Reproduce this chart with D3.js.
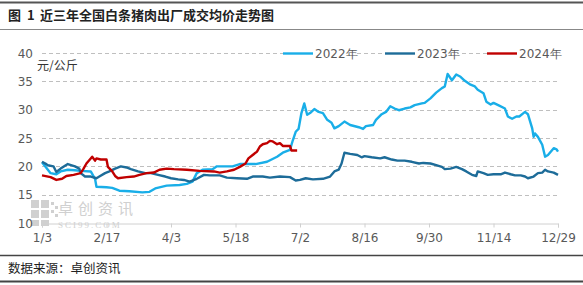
<!DOCTYPE html>
<html>
<head>
<meta charset="utf-8">
<script src="https://cdn.jsdelivr.net/npm/d3@7"></script>
<style>
  body { margin: 0; background: #fff; }
  svg { display: block; }
</style>
</head>
<body>
<div id="chart"></div>
<script>
// x = days since 1/3, y = 元/公斤
const days2022 = [0, 6, 10, 13, 18, 23, 27, 34, 37, 38, 45, 49, 54, 61, 70, 75, 79, 87, 96, 101, 105, 108, 112, 119, 122, 133, 138, 149, 157, 164, 168, 173, 175, 177, 179, 181, 183, 185, 187, 190, 193, 196, 199, 202, 204, 207, 211, 215, 221, 224, 226, 231, 233, 237, 240, 243, 246, 249, 253, 257, 260, 265, 267, 271, 275, 279, 281, 283, 286, 289, 292, 295, 299, 302, 304, 308, 310, 313, 315, 319, 323, 325, 328, 331, 333, 337, 339, 342, 343, 344, 346, 349, 351, 353, 357, 359, 360];
const vals2022 = [20.7, 18.8, 18.6, 19.1, 19.4, 19.3, 19.2, 19.1, 17.8, 16.4, 16.3, 16.2, 15.7, 15.6, 15.4, 15.5, 16.1, 16.6, 16.7, 16.9, 17.3, 18.8, 19.4, 19.5, 20.0, 20.0, 20.4, 20.4, 20.8, 21.7, 22.4, 22.9, 24.6, 26.1, 26.6, 29.4, 31.1, 29.1, 29.4, 30.1, 29.6, 29.4, 28.2, 27.7, 26.7, 27.1, 27.9, 27.3, 26.9, 26.6, 27.1, 27.3, 28.2, 29.2, 29.6, 30.6, 30.2, 29.9, 30.2, 30.4, 30.8, 31.1, 31.2, 32.0, 33.0, 33.8, 34.1, 36.3, 35.2, 36.2, 35.8, 35.1, 34.4, 34.1, 33.5, 32.9, 31.4, 30.9, 31.2, 30.7, 30.2, 28.8, 28.4, 28.8, 28.8, 29.6, 29.2, 26.7, 25.2, 25.8, 25.2, 23.8, 21.7, 22.0, 23.2, 23.0, 22.6];

const days2023 = [0, 3, 4, 8, 10, 13, 18, 23, 26, 27, 30, 34, 38, 40, 44, 47, 51, 55, 59, 62, 67, 72, 76, 81, 86, 90, 95, 99, 103, 108, 113, 117, 124, 129, 136, 143, 147, 154, 159, 166, 173, 177, 180, 184, 189, 196, 201, 204, 207, 209, 211, 215, 220, 223, 225, 230, 236, 239, 244, 248, 253, 258, 263, 266, 271, 275, 279, 281, 285, 289, 293, 296, 300, 303, 304, 308, 311, 315, 320, 323, 327, 330, 334, 337, 339, 343, 346, 349, 351, 353, 357, 360];
const vals2023 = [20.8, 20.4, 20.2, 20.0, 19.0, 19.6, 20.4, 20.0, 19.6, 18.8, 18.2, 18.2, 17.9, 18.2, 18.8, 19.1, 19.6, 20.0, 19.8, 19.5, 19.1, 18.8, 18.8, 18.5, 18.2, 17.9, 17.7, 17.6, 17.3, 17.8, 18.5, 18.4, 18.4, 18.0, 17.9, 17.8, 18.2, 18.2, 18.0, 18.2, 18.1, 17.5, 17.6, 17.9, 17.7, 17.8, 18.2, 19.1, 19.4, 20.5, 22.4, 22.2, 22.0, 21.6, 21.8, 21.6, 21.4, 21.6, 21.2, 21.0, 21.0, 20.8, 20.5, 20.6, 20.5, 20.2, 19.9, 19.5, 19.6, 19.9, 19.5, 19.1, 18.5, 18.3, 19.1, 18.8, 18.5, 18.6, 18.6, 18.9, 18.6, 18.4, 18.4, 18.2, 17.9, 18.2, 18.8, 18.9, 19.4, 19.1, 18.9, 18.5];

const days2024 = [0, 6, 10, 14, 17, 22, 27, 29, 31, 34, 35, 37, 38, 41, 45, 46, 49, 51, 53, 59, 64, 68, 73, 78, 82, 87, 92, 101, 110, 120, 124, 129, 134, 138, 142, 144, 147, 150, 152, 154, 157, 159, 161, 164, 166, 168, 173, 174, 178];
const vals2024 = [18.4, 18.1, 17.6, 17.8, 18.3, 18.5, 18.8, 19.6, 20.5, 21.4, 21.7, 21.0, 21.4, 21.2, 21.2, 19.9, 19.1, 18.3, 17.9, 18.1, 18.2, 18.5, 18.8, 18.9, 19.4, 19.6, 19.5, 19.4, 19.2, 19.1, 18.9, 19.1, 19.4, 19.9, 20.5, 21.4, 22.0, 22.6, 23.5, 23.9, 24.1, 24.5, 24.4, 23.9, 24.1, 23.6, 23.6, 22.8, 22.8];

const tickDays = [0, 45, 90, 135, 180, 225, 270, 315, 360];
const tickLabels = ["1/3", "2/17", "4/3", "5/18", "7/2", "8/16", "9/30", "11/14", "12/29"];
const yTicks = [10, 15, 20, 25, 30, 35, 40];

const seriesNames = ["2022年", "2023年", "2024年"];
const seriesColors = ["#19aee8", "#1d6c99", "#c00000"];

const W = 583, H = 285;
const svg = d3.select("#chart").append("svg").attr("width", W).attr("height", H);

const x = d3.scaleLinear().domain([0, 360]).range([42, 558]);
const y = d3.scaleLinear().domain([10, 40]).range([223, 53]);

const cjk = "'Noto Sans CJK SC', 'Noto Sans', sans-serif";
const num = "'DejaVu Sans', 'Liberation Sans', sans-serif";

// title and frame lines
svg.append("line").attr("x1", 0).attr("x2", W).attr("y1", 2.5).attr("y2", 2.5)
    .attr("stroke", "#555").attr("stroke-width", 2);
const title = svg.append("g").attr("font-family", cjk).attr("font-weight", "bold")
    .attr("font-size", 13).attr("fill", "#222");
title.append("text").attr("x", 8).attr("y", 20).text("图");
title.append("text").attr("x", 27).attr("y", 20).text("1");
title.append("text").attr("x", 40).attr("y", 20).text("近三年全国白条猪肉出厂成交均价走势图");
svg.append("line").attr("x1", 0).attr("x2", W).attr("y1", 29.5).attr("y2", 29.5)
    .attr("stroke", "#888").attr("stroke-width", 1);

svg.append("line").attr("x1", 0).attr("x2", W).attr("y1", 255.5).attr("y2", 255.5)
    .attr("stroke", "#444").attr("stroke-width", 1.5);
svg.append("text").attr("x", 8).attr("y", 273)
    .attr("font-family", cjk).attr("font-size", 12.5)
    .attr("fill", "#222").text("数据来源：卓创资讯");
svg.append("line").attr("x1", 0).attr("x2", W).attr("y1", 281.5).attr("y2", 281.5)
    .attr("stroke", "#444").attr("stroke-width", 2);

// watermark
const wm = svg.append("g").attr("fill", "#d0d0d0");
[[0, 0, 8, 8], [10, 0, 8, 8], [0, 10, 8, 8], [10, 10, 8, 8], [0, 20, 8, 6], [10, 20, 8, 6]].forEach(r => {
    wm.append("rect").attr("x", 31 + r[0]).attr("y", 200 + r[1]).attr("width", r[2]).attr("height", r[3]);
});
[[20, 2], [24, 6], [20, 10], [24, 14]].forEach(r => {
    wm.append("rect").attr("x", 31 + r[0]).attr("y", 200 + r[1]).attr("width", 3).attr("height", 3);
});
wm.append("text").attr("x", 58).attr("y", 214).attr("font-family", cjk)
    .attr("font-size", 15).attr("letter-spacing", 5).text("卓创资讯");
wm.append("text").attr("x", 58).attr("y", 228).attr("font-family", "'Liberation Serif', serif")
    .attr("font-size", 9).attr("letter-spacing", 2).text("SCI99.COM");

// gridlines
svg.append("g").selectAll("line").data(yTicks.filter(d => d > 10)).enter().append("line")
    .attr("x1", x(0)).attr("x2", x(360))
    .attr("y1", d => Math.round(y(d)) + 0.5).attr("y2", d => Math.round(y(d)) + 0.5)
    .attr("stroke", "#bfbfbf").attr("stroke-dasharray", "4,3");

// y axis labels
svg.append("g").selectAll("text").data(yTicks).enter().append("text")
    .attr("x", 33).attr("y", d => y(d) + 4.5).attr("text-anchor", "end")
    .attr("font-family", num).attr("font-size", 12).attr("fill", "#595959")
    .text(d => d);

svg.append("text").attr("x", 37).attr("y", 70)
    .attr("font-family", cjk).attr("font-size", 12).attr("fill", "#333").text("元/公斤");

// x axis
const xAxis = d3.axisBottom(x).tickValues(tickDays).tickSize(4)
    .tickFormat((d, i) => tickLabels[i]);
const gx = svg.append("g").attr("transform", "translate(0,223.5)").call(xAxis);
gx.select(".domain").attr("stroke", "#d0d0d0");
gx.selectAll(".tick line").attr("stroke", "#d0d0d0");
gx.selectAll(".tick text").attr("font-family", num).attr("font-size", 12)
    .attr("fill", "#595959").attr("dy", "0.95em");

// series lines
const line = d3.line().x(d => x(d[0])).y(d => y(d[1]));
const series = [
    d3.zip(days2022, vals2022),
    d3.zip(days2023, vals2023),
    d3.zip(days2024, vals2024)
];
series.forEach((s, i) => {
    svg.append("path").datum(s).attr("d", line)
        .attr("fill", "none").attr("stroke", seriesColors[i])
        .attr("stroke-width", 2.4).attr("stroke-linejoin", "round");
});

// legend
const legendX = [283, 385, 487];
seriesNames.forEach((name, i) => {
    const g = svg.append("g").attr("transform", `translate(${legendX[i]},53)`);
    g.append("rect").attr("x", 0).attr("y", -7).attr("width", 72).attr("height", 14).attr("fill", "#fff");
    g.append("line").attr("x1", 0).attr("x2", 30).attr("y1", 0.5).attr("y2", 0.5)
        .attr("stroke", seriesColors[i]).attr("stroke-width", 2.4);
    g.append("text").attr("x", 32).attr("y", 5).attr("font-family", num)
        .attr("font-size", 12).attr("fill", "#595959").text(name);
});
</script>
</body>
</html>
